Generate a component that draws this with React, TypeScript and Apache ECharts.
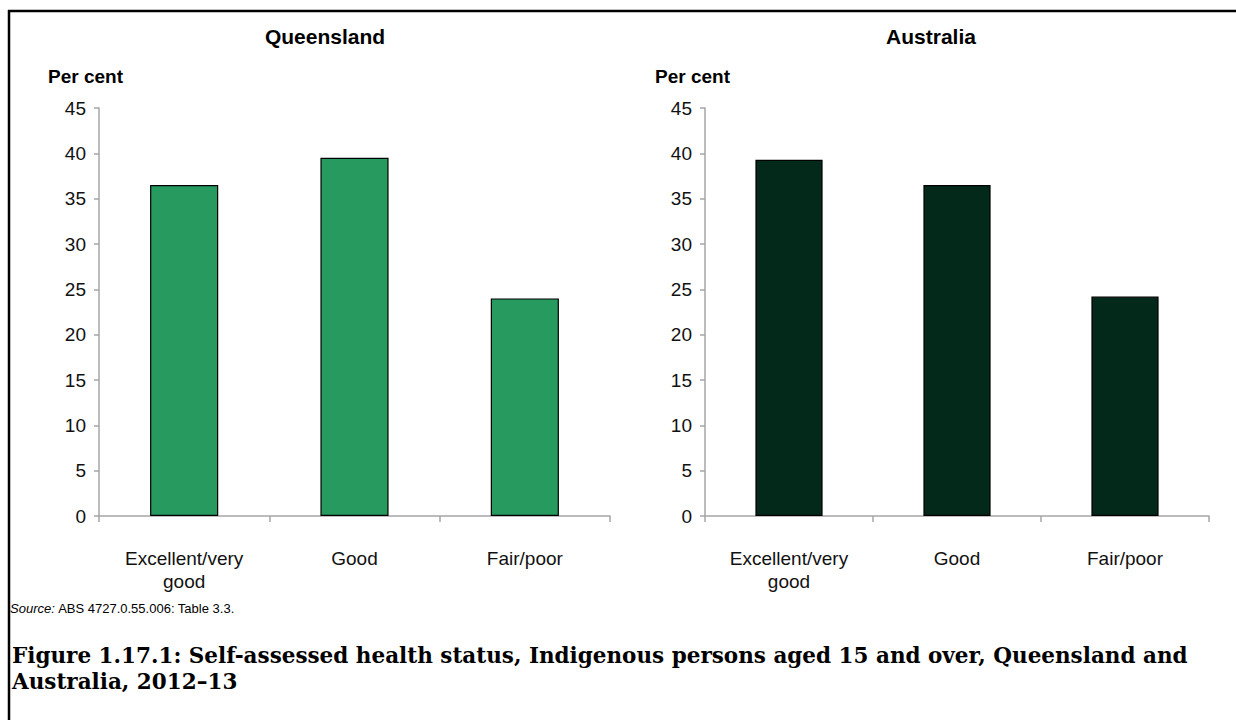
import React, { useEffect, useRef } from "react";
import * as echarts from "echarts";

const categories = ["Excellent/very\ngood", "Good", "Fair/poor"];
const queenslandValues = [36.5, 39.5, 24.0];
const australiaValues = [39.3, 36.5, 24.2];
const yTicks = { min: 0, max: 45, interval: 5 };
const panelTitles = ["Queensland", "Australia"];
const yAxisName = "Per cent";
const sourceText = "ABS 4727.0.55.006: Table 3.3.";
const captionLines = [
  "Figure 1.17.1: Self-assessed health status, Indigenous persons aged 15 and over, Queensland and",
  "Australia, 2012–13",
];

const SANS = "'Liberation Sans', Arial, sans-serif";
const SERIF = "'DejaVu Serif', 'Liberation Serif', serif";

export default function App() {
  const ref = useRef<HTMLDivElement>(null);
  useEffect(() => {
    if (!ref.current) return;
    const chart = echarts.init(ref.current, undefined, { renderer: "svg" });
    const axisColor = "#A6A6A6";
    const makeX = (gridIndex: number) => ({
      type: "category",
      gridIndex,
      data: categories,
      axisLine: { lineStyle: { color: axisColor, width: 1.5 } },
      axisTick: { show: true, length: 6, alignWithLabel: false, lineStyle: { color: axisColor, width: 1.5 } },
      axisLabel: { color: "#111", fontFamily: SANS, fontSize: 19, lineHeight: 23, margin: 31, interval: 0 },
    });
    const makeY = (gridIndex: number) => ({
      type: "value",
      gridIndex,
      min: yTicks.min,
      max: yTicks.max,
      interval: yTicks.interval,
      splitLine: { show: false },
      axisLine: { show: true, lineStyle: { color: axisColor, width: 1.5 } },
      axisTick: { show: true, length: 5, lineStyle: { color: axisColor, width: 1.5 } },
      axisLabel: { color: "#111", fontFamily: SANS, fontSize: 19, margin: 13 },
    });
    chart.setOption({
      animation: false,
      backgroundColor: "#fff",
      title: [
        { text: panelTitles[0], left: 320, top: 21, textAlign: "center",
          textStyle: { fontFamily: SANS, fontSize: 21, fontWeight: "bold", color: "#000" } },
        { text: panelTitles[1], left: 926, top: 21, textAlign: "center",
          textStyle: { fontFamily: SANS, fontSize: 21, fontWeight: "bold", color: "#000" } },
        { text: yAxisName, left: 43, top: 62,
          textStyle: { fontFamily: SANS, fontSize: 19, fontWeight: "bold", color: "#000" } },
        { text: yAxisName, left: 650, top: 62,
          textStyle: { fontFamily: SANS, fontSize: 19, fontWeight: "bold", color: "#000" } },
      ],
      grid: [
        { left: 99, right: 1236 - 610, top: 108, bottom: 720 - 516 },
        { left: 705, right: 1236 - 1209, top: 108, bottom: 720 - 516 },
      ],
      xAxis: [makeX(0), makeX(1)],
      yAxis: [makeY(0), makeY(1)],
      series: [
        { type: "bar", xAxisIndex: 0, yAxisIndex: 0, data: queenslandValues, barWidth: "40%",
          itemStyle: { color: "#279B5F", borderColor: "#000", borderWidth: 1.2 } },
        { type: "bar", xAxisIndex: 1, yAxisIndex: 1, data: australiaValues, barWidth: "40%",
          itemStyle: { color: "#03291A", borderColor: "#000", borderWidth: 1.2 } },
      ],
      graphic: [
        { type: "line", shape: { x1: 8, y1: 11, x2: 1236, y2: 11 }, style: { stroke: "#000", lineWidth: 2.5 } },
        { type: "line", shape: { x1: 9, y1: 10, x2: 9, y2: 720 }, style: { stroke: "#000", lineWidth: 2.5 } },
        { type: "text", left: 10, top: 602,
          style: {
            text: "{i|Source:} {n|" + sourceText + "}",
            rich: {
              i: { fontFamily: SANS, fontSize: 13, fontStyle: "italic", fill: "#000" },
              n: { fontFamily: SANS, fontSize: 13, fill: "#000" },
            },
          } },
        { type: "text", left: 12, top: 644,
          style: { text: captionLines[0], fontFamily: SERIF, fontSize: 21.5, fontWeight: "bold", fill: "#000" } },
        { type: "text", left: 12, top: 670,
          style: { text: captionLines[1], fontFamily: SERIF, fontSize: 21.5, fontWeight: "bold", fill: "#000" } },
      ],
    });
    return () => chart.dispose();
  }, []);
  return <div ref={ref} style={{ position: "fixed", left: 0, top: 0, width: 1236, height: 720 }} />;
}
